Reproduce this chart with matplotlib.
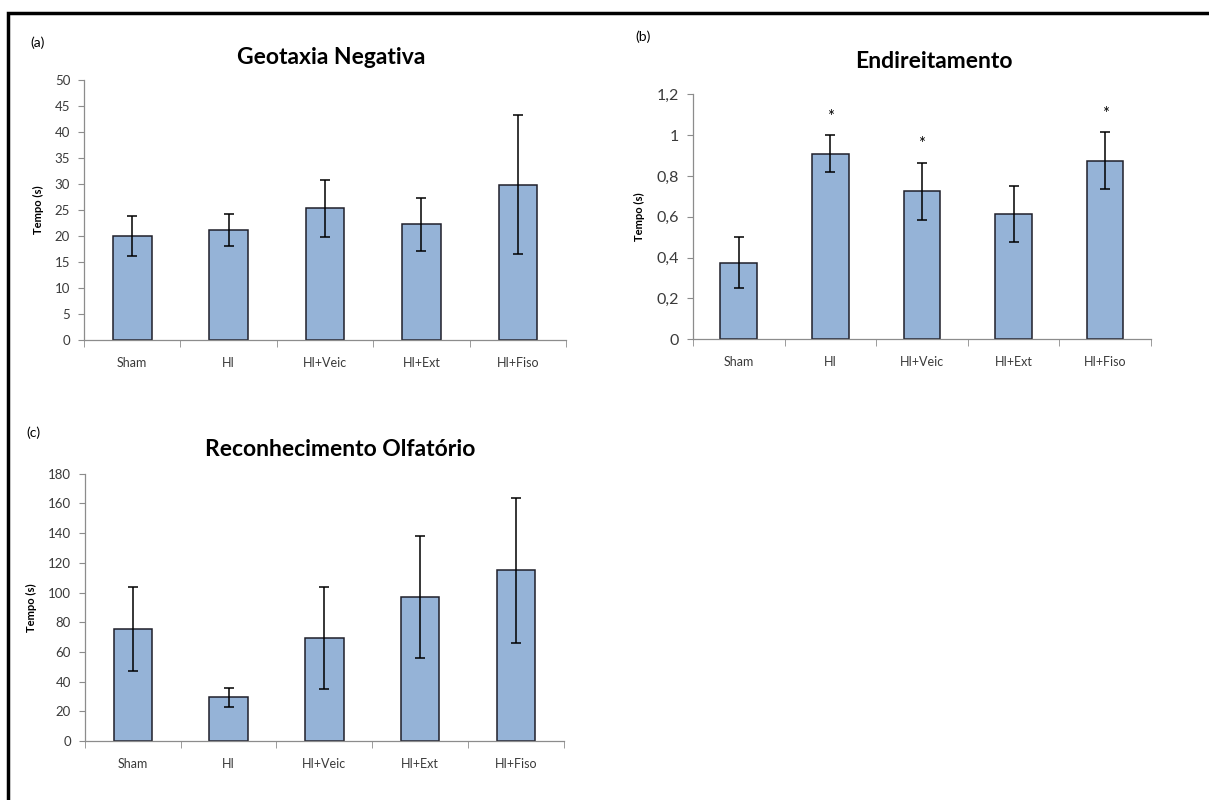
import matplotlib.pyplot as plt
from matplotlib.patches import Rectangle
import numpy as np

plt.rcParams['font.family'] = ['Lato', 'DejaVu Sans']

# data
groups = ['Sham', 'HI', 'HI+Veic', 'HI+Ext', 'HI+Fiso']

geo_mean = [20.0, 21.2, 25.3, 22.3, 29.9]
geo_err = [3.9, 3.1, 5.5, 5.1, 13.4]

endi_mean = [0.375, 0.91, 0.725, 0.615, 0.875]
endi_err = [0.125, 0.09, 0.14, 0.137, 0.14]
endi_star = [False, True, True, False, True]

olf_mean = [75.5, 29.5, 69.5, 97.0, 115.0]
olf_err = [28.5, 6.5, 34.5, 41.0, 48.7]

bar_color = '#95b3d7'
axis_grey = '#8c8c8c'
text_col = '#3a3a3a'


def draw_panel(ax, mean, err, ymax, step, ytick_fmt, ytick_size):
    x = np.arange(len(groups))
    ax.bar(x, mean, width=0.4, color=bar_color, edgecolor='#1f1f2a', linewidth=1.1, zorder=2)
    ax.errorbar(x, mean, yerr=err, fmt='none', ecolor='black', elinewidth=1.1,
                capsize=3.5, capthick=1.1, zorder=3)
    ax.set_xlim(-0.5, len(groups) - 0.5)
    ax.set_ylim(0, ymax)
    yt = np.arange(0, ymax + step / 2, step)
    ax.set_yticks(yt)
    ax.set_yticklabels([ytick_fmt(v) for v in yt], fontsize=ytick_size, color=text_col)
    # category labels in the middle, tick marks on the boundaries
    ax.set_xticks(x)
    ax.set_xticklabels(groups, fontsize=9, color=text_col)
    ax.tick_params(axis='x', length=0, pad=12)
    ax.set_xticks(np.arange(-0.5, len(groups)), minor=True)
    ax.tick_params(axis='x', which='minor', length=5, color=axis_grey, direction='out')
    ax.tick_params(axis='y', length=4, color=axis_grey, direction='out', pad=6)
    for s in ['top', 'right']:
        ax.spines[s].set_visible(False)
    for s in ['left', 'bottom']:
        ax.spines[s].set_color(axis_grey)
        ax.spines[s].set_linewidth(0.9)
    ax.set_ylabel('Tempo (s)', fontsize=8, fontweight='bold', labelpad=8)


fig = plt.figure(figsize=(12.09, 8.0), dpi=100)

ax_a = fig.add_axes([0.0695, 0.575, 0.3987, 0.325])
draw_panel(ax_a, geo_mean, geo_err, 50, 5, lambda v: '%d' % v, 9.5)

ax_b = fig.add_axes([0.5732, 0.576, 0.3788, 0.306])
draw_panel(ax_b, endi_mean, endi_err, 1.2, 0.2,
           lambda v: ('%g' % round(v, 1)).replace('.', ','), 11.5)
for i in range(len(groups)):
    if endi_star[i]:
        ax_b.text(i, endi_mean[i] + endi_err[i] + 0.09, '*', ha='center', va='center',
                  fontsize=12, color='black')

ax_c = fig.add_axes([0.0703, 0.07375, 0.396, 0.334])
draw_panel(ax_c, olf_mean, olf_err, 180, 20, lambda v: '%d' % v, 9.5)

# titles and panel letters
fig.text(0.2738, 0.9275, 'Geotaxia Negativa', ha='center', va='center',
         fontsize=16.5, fontweight='bold')
fig.text(0.7725, 0.92375, 'Endireitamento', ha='center', va='center',
         fontsize=16.5, fontweight='bold')
fig.text(0.2812, 0.43875, 'Reconhecimento Olfatório', ha='center', va='center',
         fontsize=16.5, fontweight='bold')
fig.text(0.0314, 0.946, '(a)', ha='center', va='center', fontsize=10)
fig.text(0.5318, 0.954, '(b)', ha='center', va='center', fontsize=10)
fig.text(0.0273, 0.459, '(c)', ha='center', va='center', fontsize=10)

# outer frame (open on right and bottom, as in the scan)
fig.add_artist(Rectangle((0.007, -0.05), 1.1, 1.05 - 13 / 800, transform=fig.transFigure,
                         fill=False, edgecolor='black', linewidth=2.5, clip_on=False))

plt.savefig('out.png', dpi=100)
